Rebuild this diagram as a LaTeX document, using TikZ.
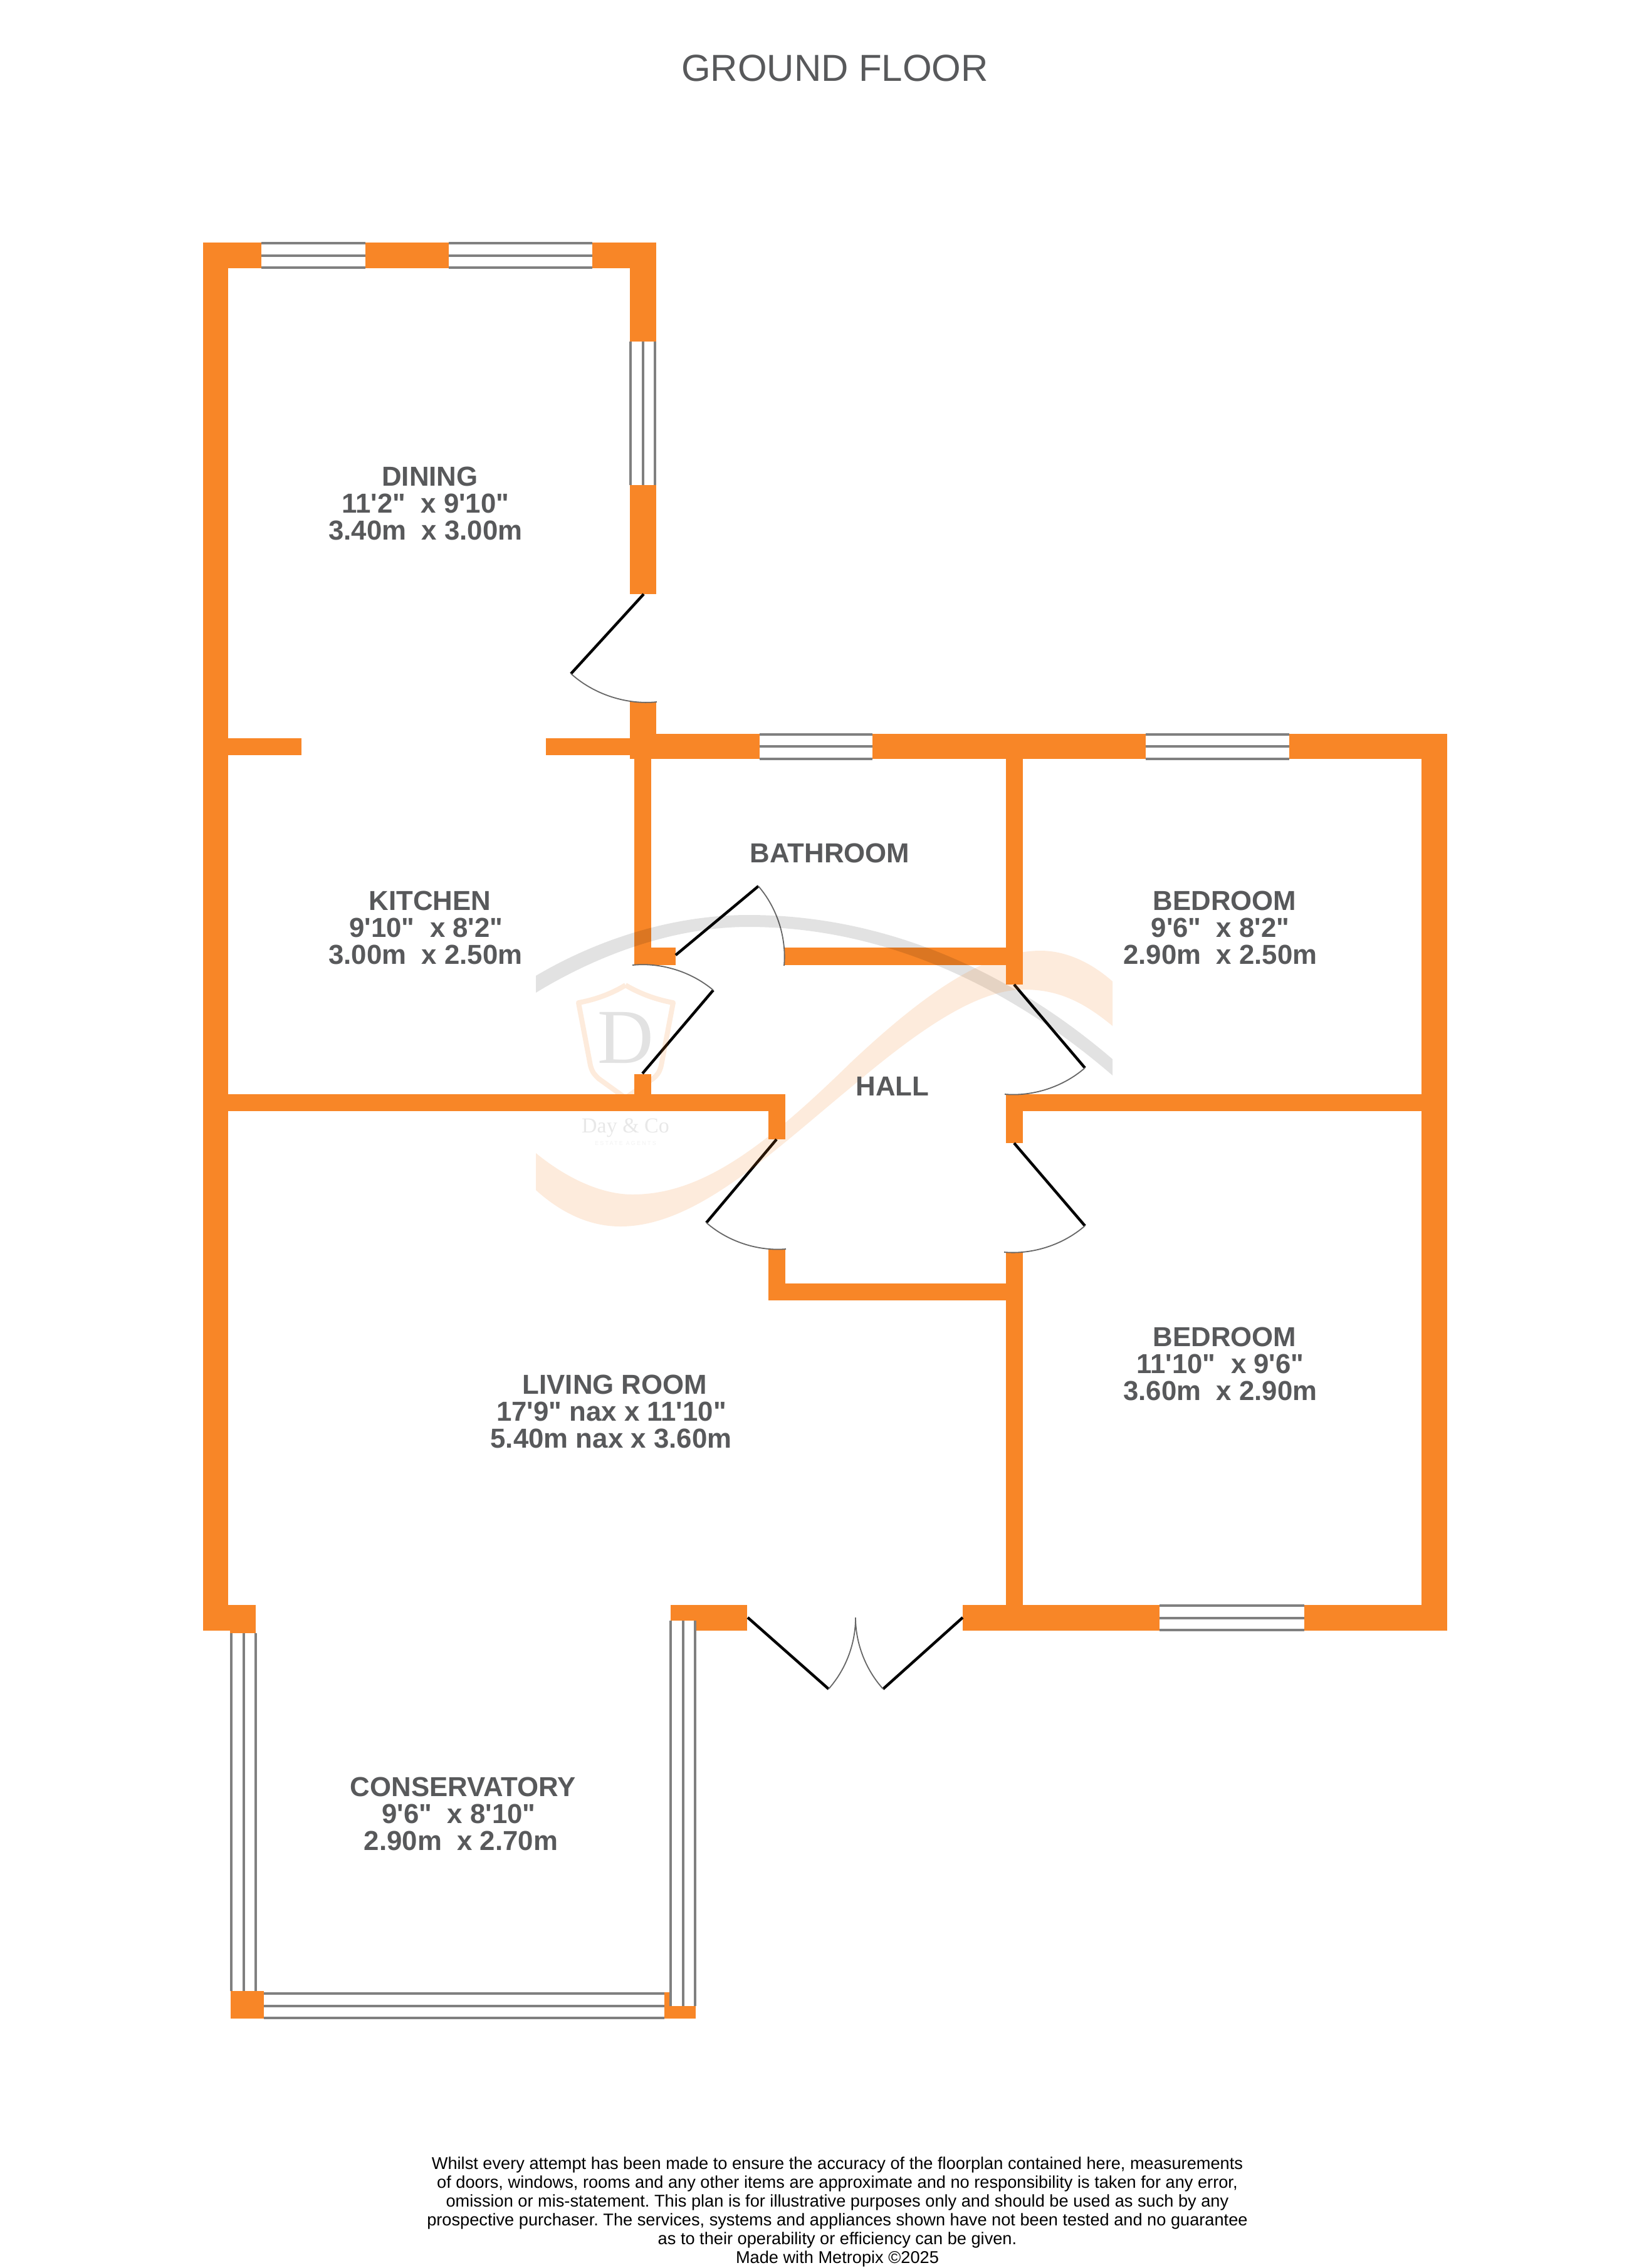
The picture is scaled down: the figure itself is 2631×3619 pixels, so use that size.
\documentclass[tikz,border=0pt]{standalone}
\usepackage{fontspec}
\newfontfamily\lab{Liberation Sans}
\newfontfamily\wmserif{Liberation Serif}
\definecolor{wallc}{HTML}{F88627}
\definecolor{textc}{HTML}{58595B}
\definecolor{glassc}{HTML}{808080}
\tikzset{
  wall/.style={fill=wallc,draw=none},
  swing/.style={draw=glassc!80!black,line width=1.8pt},
  leaf/.style={draw=black,line width=4.4pt},
  room/.style={font=\lab\bfseries\fontsize{43.8}{43}\selectfont,text=textc,align=center,inner sep=0pt},
  title/.style={font=\lab\fontsize{60}{60}\selectfont,text=textc,inner sep=0pt},
  foot/.style={font=\lab\frenchspacing\fontsize{27.2}{30}\selectfont,text=black,align=center,inner sep=0pt},
  wmgrey/.style={fill=black,opacity=.115,draw=none},
  wmorange/.style={fill=wallc,opacity=.16,draw=none},
}
\newcommand\wl[4]{\fill[wall] (#1,#2) rectangle (#3,#4);}
\newcommand\tr[1]{\rule{#1pt}{0pt}}
\newcommand\winH[3]{% x1 x2 ytop
  \fill[white] (#1,#3) rectangle (#2,#3+41);
  \draw[glassc,line width=4pt] (#1,#3+1) -- (#2,#3+1) (#1,#3+20.5) -- (#2,#3+20.5) (#1,#3+40) -- (#2,#3+40);}
\newcommand\winV[3]{% xleft y1 y2
  \fill[white] (#1,#2) rectangle (#1+41,#3);
  \draw[glassc,line width=4pt] (#1+1,#2) -- (#1+1,#3) (#1+20.5,#2) -- (#1+20.5,#3) (#1+40,#2) -- (#1+40,#3);}
\newcommand\door[7]{% name, hinge, tip, end, bend from
  \coordinate (#1h) at (#2); \coordinate (#1t) at (#3); \coordinate (#1e) at (#4);
  \draw[leaf] (#1h) -- (#1t);
  \draw[swing] (#1#5) to[#6,looseness=.87] (#1#7);}
\begin{document}
\begin{tikzpicture}[x=1pt,y=-1pt]
\useasboundingbox (0,0) rectangle (2631,3619);
\fill[white] (0,0) rectangle (2631,3619);
% walls
\wl{323.5}{387}{364}{2602}
\wl{323.5}{387}{1046.5}{428}
\wl{1005}{387}{1046.5}{948}
\wl{1005}{1120}{1046.5}{1211.4}
\wl{323.5}{1178}{481}{1205}
\wl{871}{1178}{1005}{1205}
\wl{1005}{1170.6}{2308.5}{1211.4}
\wl{1012}{1211}{1039.4}{1539.6}
\wl{1012}{1512}{1078}{1539.6}
\wl{1251}{1512}{1605}{1539.6}
\wl{1604.5}{1170.6}{1632}{1571}
\wl{2268}{1170.6}{2308.5}{2602}
\wl{1012}{1714}{1039.4}{1773}
\wl{323.5}{1746}{1253}{1773}
\wl{1225.6}{1746}{1253}{1818}
\wl{1225.6}{1993}{1253}{2075}
\wl{1225.6}{2048}{1632}{2075}
\wl{1604.5}{1746}{1632}{1823.6}
\wl{1604.5}{1746}{2308.5}{1773}
\wl{1604.5}{1998}{1632}{2602}
\wl{1536}{2561}{2308.5}{2602}
\wl{323.5}{2561}{408}{2602}
\wl{367}{2561}{408}{2606}
\wl{1069.5}{2561}{1192}{2602}
\wl{368}{3176.6}{421}{3221}
\wl{1059.5}{3201}{1110}{3221}
\wl{1059.5}{3179}{1069.5}{3201}
% windows
\winH{417}{583}{387}
\winH{716}{945}{387}
\winH{1211.6}{1392}{1170.6}
\winH{1828}{2057}{1170.6}
\winH{1850}{2081}{2561}
\winH{421}{1059.5}{3180}
\winV{1005}{545}{774}
\winV{368}{2606}{3176.6}
\winV{1069}{2586}{3201}
% doors
\door{a}{1027,948}{911,1075}{1048,1120}{t}{bend right=24}{e}
\door{b}{1078,1524}{1210,1414}{1251,1541}{t}{bend left=23}{e}
\door{c}{1025,1713}{1138,1580}{1009,1540}{e}{bend left=23}{t}
\door{d}{1618,1571}{1731,1704}{1603,1746}{e}{bend right=23}{t}
\door{f}{1239,1818}{1127,1951}{1254,1993}{t}{bend right=23}{e}
\door{g}{1618,1824}{1731,1956}{1602,1998}{e}{bend right=23}{t}
\door{h}{1193,2581}{1322,2695}{1365,2581}{t}{bend right=21}{e}
\door{i}{1536,2581}{1409,2695}{1365,2581}{t}{bend left=21}{e}
% watermark
\fill[wmgrey] (855,1557) .. controls (960,1495) and (1080,1460) .. (1194,1460)
  .. controls (1400,1460) and (1600,1540) .. (1775,1690) -- (1775,1716)
  .. controls (1600,1565) and (1400,1479) .. (1194,1479)
  .. controls (1080,1479) and (960,1520) .. (855,1584) -- cycle;
\fill[wmorange] (855,1840) .. controls (910,1885) and (965,1906) .. (1009,1906)
  .. controls (1120,1906) and (1220,1830) .. (1360,1693)
  .. controls (1470,1590) and (1570,1517) .. (1660,1517)
  .. controls (1700,1517) and (1740,1535) .. (1775,1566) -- (1775,1637)
  .. controls (1730,1600) and (1690,1579) .. (1634,1579)
  .. controls (1560,1579) and (1470,1640) .. (1360,1733)
  .. controls (1230,1840) and (1110,1957) .. (990,1957)
  .. controls (940,1957) and (895,1935) .. (855,1899) -- cycle;
\draw[wallc,opacity=.16,line width=8pt,line join=round] (998,1572)
  .. controls (975,1586) and (950,1595) .. (923,1600)
  -- (942,1700) .. controls (945,1712) and (950,1716) .. (955,1721) -- (998,1752) -- (1042,1721)
  .. controls (1048,1716) and (1052,1712) .. (1055,1700) -- (1074,1600)
  .. controls (1047,1595) and (1022,1586) .. (998,1572);
\node[text=black,opacity=.115,inner sep=0pt,font=\wmserif\fontsize{124}{124}\selectfont] (wmd) at (998,1656) {D};
\node[text=black,opacity=.09,inner sep=0pt,font=\wmserif\fontsize{34}{34}\selectfont] (wmn) at (998,1800) {Day \& Co};
\node[text=black,opacity=.05,inner sep=0pt,font=\lab\fontsize{9}{9}\selectfont] (wms) at (998,1824) {\addfontfeature{LetterSpace=25}ESTATE AGENTS};
% labels
\node[title] (ttl) at (1332,109) {GROUND FLOOR};
\node[room] (r1) at (686,803) {DINING\\11'2"~~x 9'10"\tr{14}\\3.40m~~x 3.00m\tr{14}};
\node[room] (r2) at (686,1480) {KITCHEN\\9'10"~~x 8'2"\tr{12}\\3.00m~~x 2.50m\tr{14}};
\node[room] (r3) at (1324,1361) {BATHROOM};
\node[room] (r4) at (1954,1480) {BEDROOM\\9'6"~~x 8'2"\tr{14}\\2.90m~~x 2.50m\tr{14}};
\node[room] (r5) at (1424,1733) {HALL};
\node[room] (r6) at (981,2252) {LIVING ROOM\\17'9" nax x 11'10"\tr{11}\\5.40m nax x 3.60m\tr{12}};
\node[room] (r7) at (1954,2176) {BEDROOM\\11'10"~~x 9'6"\tr{14}\\3.60m~~x 2.90m\tr{14}};
\node[room] (r8) at (739,2894) {CONSERVATORY\\9'6"~~x 8'10"\tr{14}\\2.90m~~x 2.70m\tr{7}};
\node[foot] (ft) at (1336,3529) {Whilst every attempt has been made to ensure the accuracy of the floorplan contained here, measurements\\of doors, windows, rooms and any other items are approximate and no responsibility is taken for any error,\\omission or mis-statement. This plan is for illustrative purposes only and should be used as such by any\\prospective purchaser. The services, systems and appliances shown have not been tested and no guarantee\\as to their operability or efficiency can be given.\\Made with Metropix \textcopyright 2025};
\end{tikzpicture}
\end{document}
